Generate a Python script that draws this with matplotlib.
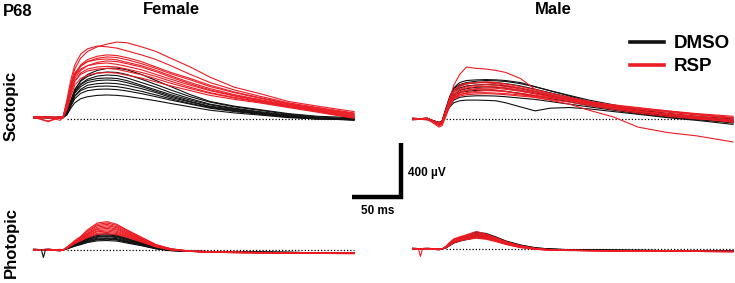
import matplotlib
matplotlib.use("Agg")
import matplotlib.pyplot as plt

plt.rcParams["font.family"] = ["Liberation Sans", "DejaVu Sans"]
plt.rcParams["font.weight"] = "bold"

# time axis of every trace (ms from flash)
t_ms = [-30, -15, -3, 0, 4, 8, 12, 18, 25, 35, 45, 55, 65, 80, 95, 110, 130, 150, 175, 200, 230, 260, 297]

# female, scotopic (uV)
fem_scot_dmso = [
    [12, 10, 8, 12, 50, 130, 210, 285, 330, 360, 375, 377, 365, 330, 285, 240, 180, 130, 95, 70, 40, 20, 10],
    [10, 12, 10, 8, 60, 140, 220, 280, 315, 340, 348, 345, 330, 295, 255, 215, 165, 125, 90, 65, 35, 15, 0],
    [15, 8, 12, 10, 40, 120, 200, 260, 295, 318, 326, 322, 305, 270, 235, 195, 150, 110, 80, 55, 30, 10, -5],
    [8, 12, 10, 12, 55, 130, 205, 255, 285, 300, 304, 300, 285, 250, 215, 180, 140, 105, 75, 50, 25, 5, -10],
    [12, 10, 15, 10, 45, 115, 190, 240, 270, 285, 289, 285, 270, 240, 205, 170, 130, 95, 70, 45, 20, 5, 5],
    [10, 15, 8, 12, 35, 100, 170, 220, 250, 262, 266, 262, 250, 225, 195, 160, 125, 90, 65, 40, 20, 0, -5],
    [14, 10, 12, 10, 50, 110, 170, 210, 232, 242, 244, 240, 228, 205, 178, 150, 115, 85, 60, 40, 15, 0, 10],
    [8, 12, 10, 14, 40, 95, 150, 190, 210, 220, 222, 218, 208, 188, 165, 140, 110, 80, 55, 35, 15, 5, -5],
    [12, 10, 12, 10, 30, 80, 120, 150, 165, 175, 178, 175, 168, 152, 135, 115, 90, 65, 45, 30, 10, 0, 0],
]
fem_scot_rsp = [
    [15, 10, 12, 15, 120, 260, 370, 450, 500, 535, 555, 570, 565, 535, 500, 450, 385, 310, 235, 190, 130, 95, 55],
    [10, 15, 8, 12, 140, 290, 400, 480, 520, 540, 535, 525, 505, 475, 440, 395, 330, 270, 215, 170, 120, 85, 45],
    [12, -15, 15, 10, 110, 240, 330, 400, 440, 465, 475, 470, 455, 425, 385, 345, 300, 250, 200, 160, 115, 80, 40],
    [18, 12, 10, 14, 100, 220, 320, 390, 425, 450, 460, 455, 440, 410, 375, 335, 290, 240, 195, 155, 110, 75, 35],
    [10, 14, -10, 10, 130, 250, 340, 395, 425, 440, 445, 438, 420, 395, 360, 320, 270, 225, 180, 145, 105, 70, 30],
    [15, 10, 5, 12, 90, 200, 300, 360, 395, 420, 430, 425, 410, 385, 350, 310, 260, 215, 175, 140, 100, 65, 25],
    [8, 12, 15, 10, 110, 230, 320, 370, 395, 410, 415, 405, 390, 365, 330, 295, 250, 210, 170, 135, 95, 60, 20],
    [12, 15, 8, 12, 80, 190, 280, 340, 370, 385, 390, 385, 370, 345, 315, 280, 235, 195, 160, 130, 95, 60, 15],
    [14, -20, 12, 15, 100, 200, 280, 330, 355, 370, 375, 368, 352, 328, 298, 265, 225, 190, 155, 125, 90, 55, 10],
    [10, 8, 12, 10, 70, 170, 250, 300, 325, 340, 345, 340, 325, 303, 275, 245, 210, 175, 145, 120, 85, 50, 5],
]

# male, scotopic (uV)
male_scot_dmso = [
    [0, 5, -30, -20, 70, 160, 230, 270, 285, 290, 292, 290, 285, 270, 240, 210, 170, 130, 95, 65, 40, 20, 0],
    [5, 0, -25, -15, 80, 170, 225, 255, 270, 280, 285, 283, 278, 262, 238, 210, 175, 140, 105, 70, 40, 15, -10],
    [0, -5, -35, -25, 60, 150, 210, 245, 260, 268, 272, 270, 262, 245, 220, 195, 160, 125, 90, 60, 30, 10, -20],
    [0, 5, -30, -20, 70, 150, 200, 230, 245, 252, 255, 252, 245, 228, 205, 180, 150, 120, 85, 55, 25, 0, -30],
    [-5, 0, -25, -15, 50, 130, 180, 210, 225, 235, 238, 235, 228, 212, 192, 170, 140, 110, 80, 50, 25, 5, -15],
    [0, 5, -40, -30, 60, 130, 170, 195, 205, 212, 215, 212, 205, 190, 172, 152, 128, 100, 72, 45, 20, 0, -20],
    [5, 0, -30, -20, 40, 100, 140, 160, 168, 172, 172, 170, 165, 155, 145, 130, 110, 90, 65, 40, 15, -5, -25],
    [0, 5, -35, -25, 40, 90, 120, 135, 140, 140, 138, 135, 120, 90, 60, 80, 85, 75, 55, 35, 10, -10, -40],
]
male_scot_rsp = [
    [0, 5, -30, -20, 60, 150, 250, 330, 385, 375, 370, 360, 345, 300, 220, 190, 160, 130, 100, 80, 60, 40, 20],
    [0, -5, -40, -30, 50, 140, 200, 240, 260, 270, 275, 270, 260, 240, 215, 190, 160, 130, 100, 75, 55, 35, 10],
    [5, 0, -35, -20, 70, 160, 210, 250, 265, 270, 268, 262, 250, 228, 205, 180, 150, 120, 90, 60, 30, 10, -20],
    [0, 5, -50, -40, 40, 120, 180, 220, 240, 250, 255, 250, 240, 222, 200, 178, 150, 125, 95, 70, 50, 30, 5],
    [-5, 0, -30, -25, 50, 130, 185, 215, 230, 240, 242, 238, 230, 212, 190, 168, 140, 110, 80, 55, 35, 15, -10],
    [0, 5, -45, -35, 30, 110, 165, 200, 215, 225, 230, 228, 220, 205, 185, 165, 140, 115, 85, 60, 40, 20, -5],
    [5, 0, -60, -50, 20, 100, 150, 180, 195, 205, 210, 208, 202, 190, 175, 160, 135, 110, 80, 55, 30, 5, -25],
    [0, -5, -30, -20, 40, 110, 150, 170, 180, 185, 188, 185, 180, 170, 160, 145, 125, 100, 70, 45, 20, 0, -15],
    [0, 5, -40, -30, 30, 100, 150, 190, 210, 220, 222, 215, 205, 185, 160, 140, 110, 65, 15, -60, -100, -125, -170],
    [-5, 0, -35, -30, 50, 120, 160, 180, 190, 195, 195, 192, 188, 178, 168, 155, 140, 125, 105, 85, 60, 35, 10],
]

# female, photopic (uV)
fem_phot_dmso = [
    [0, 0, 0, 0, 15, 30, 45, 65, 90, 115, 120, 110, 88, 55, 20, 0, -10, -15, -15, -18, -20, -20, -22],
    [0, 5, 0, 0, 12, 28, 42, 60, 85, 108, 112, 104, 82, 50, 18, 0, -10, -12, -15, -18, -18, -20, -20],
    [5, 0, 0, 0, 15, 28, 40, 58, 80, 100, 105, 98, 78, 48, 16, -2, -8, -12, -15, -15, -18, -20, -22],
    [0, 0, -5, 0, 10, 25, 38, 55, 75, 95, 100, 92, 72, 45, 15, -2, -10, -12, -15, -18, -18, -20, -20],
    [0, 0, 0, 0, 12, 25, 36, 50, 70, 87, 90, 84, 66, 42, 14, -3, -10, -15, -15, -18, -20, -20, -22],
    [0, 5, 0, 0, 10, 22, 33, 47, 65, 80, 85, 78, 62, 38, 12, -3, -8, -12, -15, -15, -18, -20, -20],
    [0, 0, -5, 0, 10, 20, 30, 44, 60, 76, 80, 74, 58, 35, 10, -4, -10, -12, -15, -18, -18, -20, -22],
    [5, 0, 0, 0, 8, 18, 28, 40, 55, 68, 70, 66, 52, 32, 8, -5, -10, -12, -15, -15, -18, -20, -20],
]
fem_phot_rsp = [
    [0, 0, -5, 0, 20, 45, 70, 100, 150, 200, 210, 190, 150, 95, 40, 10, -10, -15, -20, -20, -25, -25, -25],
    [0, 5, 0, 0, 15, 40, 65, 95, 140, 190, 200, 182, 145, 90, 38, 8, -8, -15, -18, -22, -22, -25, -28],
    [0, 0, 5, 0, 20, 40, 60, 90, 135, 180, 190, 172, 138, 85, 35, 8, -10, -15, -20, -20, -22, -25, -25],
    [5, 0, 0, 0, 18, 38, 58, 85, 125, 170, 180, 165, 130, 80, 32, 5, -10, -15, -18, -20, -22, -22, -25],
    [0, 0, -5, 0, 15, 35, 55, 82, 120, 160, 170, 155, 125, 78, 30, 5, -8, -12, -18, -20, -20, -22, -22],
    [0, 5, 0, 0, 20, 40, 58, 80, 115, 152, 160, 148, 118, 75, 30, 5, -8, -15, -18, -20, -20, -25, -25],
    [0, 0, 0, 0, 15, 35, 52, 75, 108, 142, 150, 138, 112, 70, 28, 4, -10, -15, -18, -18, -22, -22, -25],
    [5, 0, -5, 0, 18, 38, 55, 75, 105, 135, 140, 130, 105, 66, 26, 3, -10, -12, -15, -20, -20, -22, -22],
    [0, 0, 0, 0, 15, 32, 50, 70, 98, 125, 130, 122, 100, 62, 25, 2, -8, -12, -15, -18, -20, -22, -25],
    [0, 5, 0, 0, 12, 30, 48, 68, 92, 116, 120, 114, 95, 60, 22, 0, -10, -15, -18, -20, -20, -25, -25],
]

# male, photopic (uV)
male_phot_dmso = [
    [0, 0, 0, 0, 15, 40, 65, 85, 100, 125, 115, 90, 60, 30, 10, 0, -5, -8, -10, -12, -12, -15, -15],
    [0, 0, 0, 0, 15, 38, 60, 80, 95, 118, 108, 85, 56, 28, 8, 0, -5, -8, -10, -10, -12, -15, -15],
    [5, 0, -5, 0, 12, 35, 58, 75, 90, 110, 100, 80, 52, 25, 6, -2, -6, -8, -10, -12, -12, -12, -15],
    [0, 0, 0, 0, 12, 35, 55, 72, 85, 104, 95, 76, 50, 24, 5, -2, -6, -8, -10, -10, -12, -15, -15],
    [0, 5, 0, 0, 10, 30, 52, 68, 80, 98, 90, 72, 48, 22, 5, -3, -6, -8, -10, -12, -12, -12, -15],
    [0, 0, 0, 0, 10, 30, 50, 65, 76, 92, 85, 68, 45, 20, 4, -3, -8, -8, -10, -10, -12, -15, -15],
    [0, 0, -5, 0, 10, 28, 46, 60, 72, 88, 80, 64, 42, 18, 3, -4, -8, -10, -10, -12, -12, -12, -15],
    [5, 0, 0, 0, 8, 25, 44, 58, 70, 85, 78, 62, 40, 16, 2, -4, -8, -10, -10, -10, -12, -15, -15],
]
male_phot_rsp = [
    [0, 0, 0, 0, 20, 50, 75, 90, 105, 130, 110, 85, 55, 25, 5, -5, -10, -12, -15, -15, -18, -18, -20],
    [0, 5, 0, 0, 18, 45, 70, 85, 100, 120, 105, 80, 52, 22, 4, -5, -10, -12, -15, -15, -15, -18, -18],
    [0, 0, -5, 0, 15, 40, 65, 82, 95, 112, 98, 75, 48, 20, 3, -6, -10, -12, -12, -15, -15, -18, -20],
    [5, 0, 0, 0, 15, 40, 62, 78, 90, 105, 92, 70, 45, 18, 2, -6, -10, -10, -12, -15, -15, -15, -18],
    [0, 0, 0, 0, 12, 35, 58, 72, 85, 98, 88, 66, 42, 16, 0, -8, -10, -12, -15, -15, -18, -18, -20],
    [0, 5, 0, 0, 12, 35, 55, 70, 80, 92, 82, 62, 40, 15, 0, -8, -10, -12, -12, -15, -15, -18, -18],
    [0, 0, -5, 0, 10, 30, 50, 65, 75, 86, 78, 58, 36, 12, -2, -8, -12, -12, -15, -15, -15, -18, -20],
    [0, 0, 0, 0, 10, 28, 48, 60, 70, 80, 72, 55, 34, 10, -2, -8, -10, -12, -12, -15, -15, -15, -18],
]

# short stimulus artefact seen on photopic traces before the flash
fem_artifact_t = [-22, -20, -18]
fem_artifact_uv = [0, -55, 0]
male_artifact_t = [-24, -22, -20]
male_artifact_uv = [0, -55, 0]

scale_ms = 50
scale_uv = 400

BLACK = "#111111"
RED = "#ec1c24"

W, H = 735, 283
PX_MS = 0.98      # pixels per ms
PX_UV = 0.135     # pixels per uV
XLIM = (-32, 300)
SCOT_YLIM = (-200, 650)
PHOT_YLIM = (-100, 300)

fig = plt.figure(figsize=(W / 100, H / 100), dpi=100)


def make_ax(x0_px, base_px, ylim):
    # x0_px: pixel column of t=0, base_px: pixel row of 0 uV
    left = x0_px + XLIM[0] * PX_MS
    width = (XLIM[1] - XLIM[0]) * PX_MS
    top = base_px - ylim[1] * PX_UV
    height = (ylim[1] - ylim[0]) * PX_UV
    ax = fig.add_axes([left / W, 1 - (top + height) / H, width / W, height / H])
    ax.set_xlim(XLIM)
    ax.set_ylim(ylim)
    ax.axis("off")
    return ax


def draw(ax, dmso, rsp, label=False):
    ax.plot([4, 297], [0, 0], color="black", lw=0.9, ls=(0, (1, 1.6)))
    for i, tr in enumerate(dmso):
        ax.plot(t_ms, tr, color=BLACK, lw=0.8, label="DMSO" if (label and i == 0) else None)
    for i, tr in enumerate(rsp):
        ax.plot(t_ms, tr, color=RED, lw=0.8, label="RSP" if (label and i == 0) else None)


ax_fs = make_ax(63, 119, SCOT_YLIM)
ax_ms = make_ax(442, 119, SCOT_YLIM)
ax_fp = make_ax(63, 250, PHOT_YLIM)
ax_mp = make_ax(442, 249, PHOT_YLIM)

draw(ax_fs, fem_scot_dmso, fem_scot_rsp)
draw(ax_ms, male_scot_dmso, male_scot_rsp, label=True)
draw(ax_fp, fem_phot_dmso, fem_phot_rsp)
draw(ax_mp, male_phot_dmso, male_phot_rsp)
ax_fp.plot(fem_artifact_t, fem_artifact_uv, color=BLACK, lw=0.8)
ax_mp.plot(male_artifact_t, male_artifact_uv, color=RED, lw=0.8)

leg = ax_ms.legend(loc="upper left", bbox_to_anchor=((622 - 410.6) / 325, 1.03),
                   frameon=False, handlelength=1.8, handletextpad=0.55,
                   labelspacing=0.3, borderaxespad=0, prop={"weight": "bold", "size": 13.5})
for ln in leg.get_lines():
    ln.set_linewidth(2.6)

# scale bar
sb_left, sb_bottom = 352, 197
ax_sb = fig.add_axes([sb_left / W, 1 - sb_bottom / H, scale_ms * PX_MS / W, scale_uv * PX_UV / H])
ax_sb.set_xlim(0, scale_ms)
ax_sb.set_ylim(0, scale_uv)
ax_sb.axis("off")
ax_sb.plot([0, scale_ms, scale_ms], [0, 0, scale_uv], color="black", lw=3.2,
           solid_joinstyle="miter", solid_capstyle="butt", clip_on=False)
fig.text(408 / W, 1 - 173 / H, "400 µV", fontsize=8.5, va="center", ha="left")
fig.text(378 / W, 1 - 211 / H, "50 ms", fontsize=8.5, va="center", ha="center")

# labels
fig.text(3 / W, 1 - 12 / H, "P68", fontsize=12, va="center", ha="left")
fig.text(171 / W, 1 - 10 / H, "Female", fontsize=12, va="center", ha="center")
fig.text(553 / W, 1 - 10 / H, "Male", fontsize=12, va="center", ha="center")
fig.text(11 / W, 1 - 106 / H, "Scotopic", fontsize=12, va="center", ha="center", rotation=90)
fig.text(11 / W, 1 - 243 / H, "Photopic", fontsize=12, va="center", ha="center", rotation=90)

fig.savefig("out.png", dpi=100)
